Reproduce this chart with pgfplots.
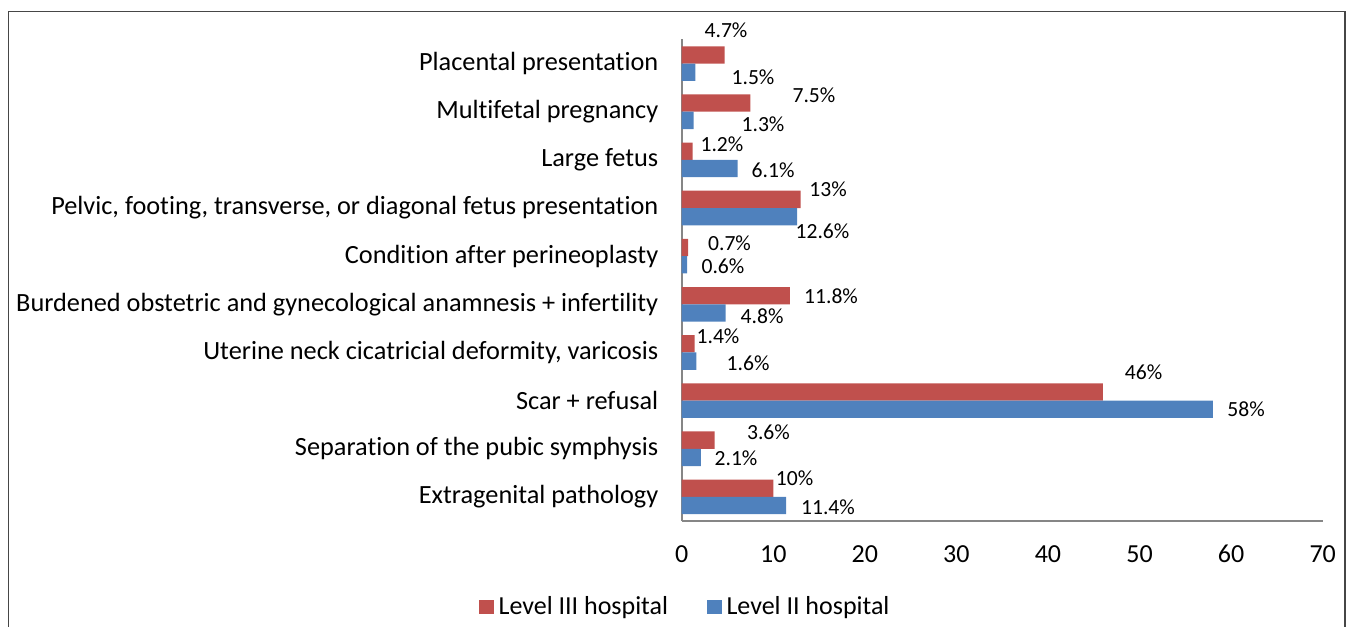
\documentclass[border=0pt]{standalone}
\usepackage{pgfplots}
\pgfplotsset{compat=1.18}
\usepackage{pgfplotstable}
\usepackage{fontspec}
\setmainfont{Carlito}[Ligatures=NoCommon]
\definecolor{barred}{RGB}{192,80,77}
\definecolor{barblue}{RGB}{79,129,189}
\definecolor{axgray}{RGB}{134,134,134}
\definecolor{framegray}{RGB}{70,70,70}

\pgfplotstableread{
y red rdx rdy blue bdx bdy
0 10 10.65 5 11.4 20.95 -0.65
1 3.6 26.9 3.9 2.1 17.55 -0.5
2 46 20.35 10 58 16.65 -0.1
3 1.4 11.75 3.95 1.6 25.85 -1.2
4 11.8 20.65 -0.15 4.8 18.2 -1.75
5 0.7 20.7 2 0.6 17.9 -0.6
6 13 13.65 4.9 12.6 12.7 -7.5
7 1.2 14.65 3.5 6.1 17.75 -0.8
8 7.5 31.8 3.95 1.3 34.7 -1.95
9 4.7 0.65 12.3 1.5 28.8 -2.5
}\data

\begin{document}
\begin{tikzpicture}
\path[use as bounding box] (0,0) rectangle (673.5pt,313pt);
\draw[framegray, line width=0.8pt] (4.25pt,-5pt) -- (4.25pt,307.25pt) -- (672.5pt,307.25pt) -- (672.5pt,-5pt);
\begin{axis}[
  at={(340.85pt,52.5pt)}, anchor=south west,
  scale only axis, width=320.5pt, height=240.75pt,
  xbar, bar width=8.65pt,
  xmin=0, xmax=70, ymin=-0.5, ymax=9.5,
  clip=false,
  axis x line=bottom, axis y line=left,
  axis line style={-, draw=axgray, line width=1pt},
  major tick length=0pt,
  xtick={0,10,...,70},
  ytick={0,...,9},
  yticklabels={Extragenital pathology, Separation of the pubic symphysis, Scar + refusal, {Uterine neck cicatricial deformity, varicosis}, Burdened obstetric and gynecological anamnesis + infertility, Condition after perineoplasty, {Pelvic, footing, transverse, or diagonal fetus presentation}, Large fetus, Multifetal pregnancy, Placental presentation},
  yticklabel style={font=\fontsize{13.15}{15}\selectfont, xshift=-8.2pt},
  xticklabel style={font=\fontsize{13}{15}\selectfont, yshift=-8.6pt},
  /pgf/number format/assume math mode=true,
  point meta=x,
  nodes near coords={\pgfmathprintnumber{\pgfplotspointmeta}\%},
  every node near coord/.append style={font=\fontsize{10.8}{12}\selectfont, anchor=center, text=black},
  legend columns=2,
  legend style={at={(0.008,-0.179)}, anchor=center, draw=none, fill=none,
    font=\fontsize{13}{15}\selectfont,
    /tikz/every even column/.append style={column sep=17pt},
    nodes={inner sep=2.5pt}},
  legend image code/.code={\fill[#1] (0pt,-3.6pt) rectangle (7.2pt,3.6pt);},
]
\addplot[fill=barred, draw=none, bar shift=4.325pt,
  visualization depends on={\thisrow{rdx} \as \dx},
  visualization depends on={\thisrow{rdy} \as \dy},
  every node near coord/.append style={xshift=\dx, yshift=\dy}]
  table[x=red, y=y] {\data};
\addlegendentry{Level III hospital}
\addplot[fill=barblue, draw=none, bar shift=-4.325pt,
  visualization depends on={\thisrow{bdx} \as \dx},
  visualization depends on={\thisrow{bdy} \as \dy},
  every node near coord/.append style={xshift=\dx, yshift=\dy}]
  table[x=blue, y=y] {\data};
\addlegendentry{Level II hospital}
\end{axis}
\end{tikzpicture}
\end{document}
